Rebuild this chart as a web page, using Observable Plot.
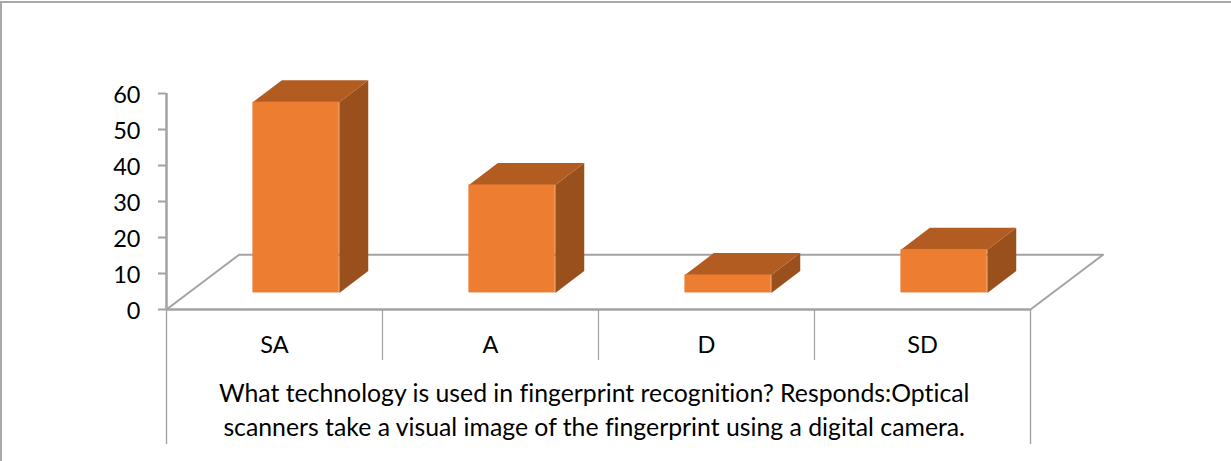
<!DOCTYPE html>
<html>
<head>
<meta charset="utf-8">
<script src="https://cdn.jsdelivr.net/npm/d3@7"></script>
<script src="https://cdn.jsdelivr.net/npm/@observablehq/plot@0.6"></script>
<style>
html,body{margin:0;padding:0;background:#fff;width:1231px;height:461px;overflow:hidden}
#c{position:relative;width:1231px;height:461px}
#c svg{display:block;position:absolute;left:0;top:0;background:transparent}
#c svg text{font-variant-ligatures:none}
#f{position:absolute;left:0;top:1px;width:1229px;height:470px;border:2px solid #a9a9a9;border-right-color:#d0d0d0;box-sizing:content-box}
</style>
</head>
<body>
<div id="c"><div id="f"></div></div>
<script>
const categories = ["SA", "A", "D", "SD"];
const values = [53, 30, 5, 12];
const yTicks = [0, 10, 20, 30, 40, 50, 60];
const chartTitle = "What technology is used in fingerprint recognition? Responds:Optical\nscanners take a visual image of the fingerprint using a digital camera.";

const FRONT = "#ED7D31", TOP = "#B25C22", SIDE = "#99501C", GRID = "#a3a3a3";
const base = 4.6, barStart = 0.4, barWidth = 0.4, depthX = 0.134, depthY = 6.1;
const floorX = 0.336, floorY = 15.2, n = categories.length;

const bars = categories.map((c, i) => ({c, i, v: values[i], x1: i + barStart, x2: i + barStart + barWidth, y1: base, y2: base + values[i]}));
const topFaces = bars.flatMap(b => [
  [b.x1, b.y2], [b.x2, b.y2], [b.x2 + depthX, b.y2 + depthY], [b.x1 + depthX, b.y2 + depthY], [b.x1, b.y2]
].map(p => ({k: b.c, x: p[0], y: p[1]})));
const sideFaces = bars.flatMap(b => [
  [b.x2, b.y1], [b.x2 + depthX, b.y1 + depthY], [b.x2 + depthX, b.y2 + depthY], [b.x2, b.y2], [b.x2, b.y1]
].map(p => ({k: b.c, x: p[0], y: p[1]})));
const floorLine = [[0, 0], [floorX, floorY], [n + floorX, floorY], [n, 0]].map(p => ({x: p[0], y: p[1]}));
const font = "Lato, 'Open Sans', sans-serif";

const plot = Plot.plot({
  width: 1231, height: 461,
  marginLeft: 166, marginRight: 201, marginTop: 93, marginBottom: 152,
  x: {domain: [0, n], axis: null},
  y: {domain: [0, 60]},
  style: {fontFamily: font, background: "transparent"},
  marks: [
    Plot.line(floorLine, {x: "x", y: "y", stroke: GRID, strokeWidth: 2}),
    Plot.ruleY([0], {x1: 0, x2: n, stroke: GRID, strokeWidth: 2.5}),
    Plot.ruleX(d3.range(1, n), {y1: 0, y2: -14.2, stroke: GRID, strokeWidth: 1.2}),
    Plot.ruleX([0, n], {y1: 0, y2: -37.5, stroke: GRID, strokeWidth: 1.4}),
    Plot.ruleX([0], {y1: 0, y2: 60, stroke: GRID, strokeWidth: 2.5}),
    Plot.axisY({ticks: yTicks, tickSize: 8, text: null, label: null, stroke: GRID, strokeWidth: 2}),
    Plot.axisY({ticks: yTicks, tickSize: 0, tickPadding: 26, dy: 1.5, label: null, fill: "#000", fontSize: 23.5, tickFormat: d => d}),
    Plot.line(sideFaces, {x: "x", y: "y", z: "k", fill: SIDE, stroke: "none"}),
    Plot.line(topFaces, {x: "x", y: "y", z: "k", fill: TOP, stroke: "none"}),
    Plot.rect(bars, {x1: "x1", x2: "x2", y1: "y1", y2: "y2", fill: FRONT}),
    Plot.text(categories, {x: (d, i) => i + 0.5, y: -9.9, text: d => d, fontSize: 23.5, fill: "#000"}),
    Plot.text([chartTitle], {x: 1.98, y: -27.45, text: d => d, fontSize: 24.8, lineHeight: 1.37, fill: "#000"})
  ]
});
document.getElementById("c").appendChild(plot);
</script>
</body>
</html>
